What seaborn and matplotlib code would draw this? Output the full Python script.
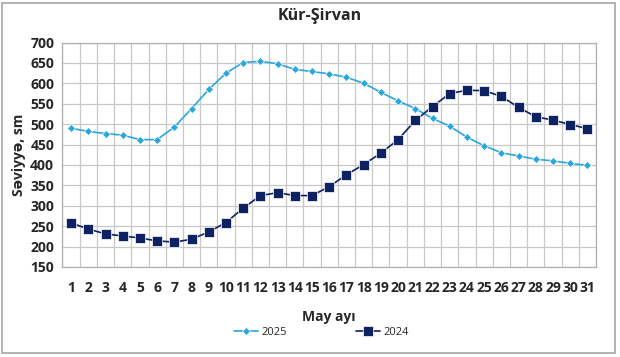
import pandas as pd
import matplotlib.pyplot as plt
import seaborn as sns
from matplotlib.patches import Rectangle

# Данные
days = list(range(1, 32))
y2025 = [490, 482, 477, 473, 462, 462, 493, 538, 585, 625, 651, 654, 648, 634, 629,
         623, 615, 600, 578, 557, 538, 514, 495, 468, 447, 430, 422, 414, 410, 404, 399]
y2024 = [258, 243, 231, 226, 221, 214, 211, 218, 236, 259, 294, 325, 332, 325, 325,
         347, 376, 401, 429, 462, 509, 543, 575, 583, 582, 568, 541, 518, 510, 499, 489]
series = ["2025", "2024"]

df = pd.DataFrame({
    "pos": list(range(len(days))) * 2,
    "val": y2025 + y2024,
    "year": ["2025"] * len(days) + ["2024"] * len(days),
})

sns.set_style("white")
plt.rcParams["font.family"] = ["Open Sans", "DejaVu Sans"]

palette = {"2025": "#29A6DE", "2024": "#0D2163"}
markers = {"2025": "D", "2024": "s"}

fig = plt.figure(figsize=(6.2, 3.57), dpi=100)
ax = fig.add_axes([62.5 / 620, 1 - 267 / 357, (596 - 62.5) / 620, (267 - 42.5) / 357])

sns.lineplot(data=df, x="pos", y="val", hue="year", style="year",
             palette=palette, markers=markers, dashes=False, ax=ax,
             linewidth=1.2, markeredgewidth=0.5)
for line in ax.lines:
    if line.get_marker() == "D":
        line.set_markersize(4.5)
    else:
        line.set_markersize(6.5)

ax.set_xlim(-0.5, len(days) - 0.5)
ax.set_ylim(150, 700)
ax.set_yticks(range(150, 701, 50))
ax.set_xticks(range(len(days)))
ax.set_xticklabels([str(d) for d in days], fontweight="bold", fontsize=10)
ax.set_xticks([i - 0.5 for i in range(len(days) + 1)], minor=True)
for t in ax.get_yticklabels():
    t.set_fontweight("bold")
    t.set_fontsize(10)

# Сетка
ax.grid(True, which="minor", axis="x", color="#c8c8c8", linewidth=0.9)
ax.grid(True, which="major", axis="y", color="#c8c8c8", linewidth=0.9)
ax.tick_params(axis="x", which="major", length=0, pad=10)
ax.tick_params(axis="x", which="minor", length=4, color="#b0b0b0", width=0.9)
ax.tick_params(axis="y", length=4, color="#b0b0b0", width=0.9, pad=2)
for name, spine in ax.spines.items():
    spine.set_color("#b0b0b0")
    spine.set_linewidth(0.9)

ax.set_xlabel("May ayı", fontweight="bold", fontsize=10, labelpad=11)
ax.set_ylabel("Səviyyə, sm", fontweight="bold", fontsize=10, labelpad=3)

handles, labels = ax.get_legend_handles_labels()
ax.legend(handles, labels, loc="center", bbox_to_anchor=(0.485, -0.29),
          ncol=2, frameon=False, fontsize=8, columnspacing=6.2,
          handlelength=2.2, handletextpad=0.3)

fig.suptitle("Kür-Şirvan", x=0.515, y=1 - 8 / 357, fontweight="bold", fontsize=11.5)

# Рамка вокруг рисунка
fig.patches.append(Rectangle((2 / 620, 4 / 357), 613 / 620, 350 / 357,
                             transform=fig.transFigure, fill=False,
                             edgecolor="#a6a6a6", linewidth=1.2))

fig.savefig("out.png", dpi=100)
